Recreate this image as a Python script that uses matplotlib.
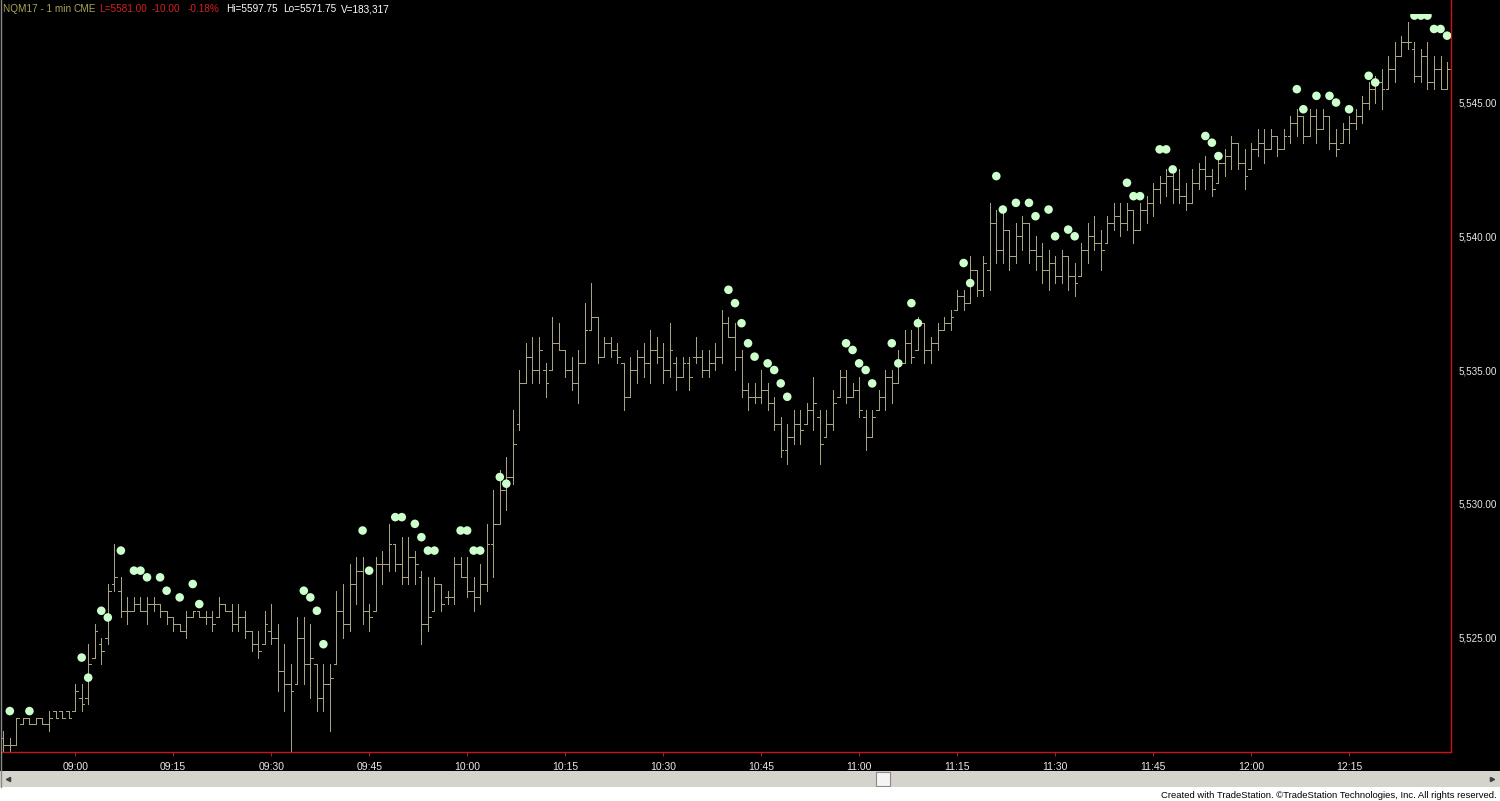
import matplotlib
matplotlib.use("Agg")
import matplotlib.pyplot as plt
from matplotlib.patches import Rectangle
from matplotlib.lines import Line2D

# ---------------- data ----------------
start_time = "08:49"
highs = [
    5521.5, 5521.25, 5522.0, 5522.0, 5522.0, 5522.0, 5522.0, 5522.25, 5522.25, 5522.25,
    5522.25, 5523.25, 5523.25, 5524.75, 5525.5, 5525.0, 5527.0, 5528.5, 5527.25, 5526.5,
    5526.5, 5526.5, 5526.5, 5526.5, 5526.25, 5526.0, 5525.75, 5525.5, 5526.0, 5526.0,
    5526.0, 5526.0, 5526.0, 5526.5, 5526.25, 5526.25, 5526.25, 5526.0, 5525.25, 5525.25,
    5526.0, 5526.25, 5525.5, 5524.75, 5524.0, 5525.75, 5525.75, 5525.5, 5524.0, 5524.0,
    5524.0, 5526.75, 5527.0, 5527.75, 5528.0, 5528.0, 5526.25, 5528.0, 5528.25, 5529.25,
    5528.5, 5528.75, 5528.75, 5528.25, 5527.5, 5527.25, 5527.25, 5527.0, 5526.75, 5528.0,
    5528.0, 5528.0, 5527.25, 5527.75, 5529.25, 5530.5, 5531.25, 5531.75, 5533.5, 5535.0,
    5536.0, 5536.25, 5536.25, 5535.25, 5537.0, 5536.75, 5535.75, 5535.5, 5535.75, 5537.5,
    5538.25, 5537.0, 5536.25, 5536.25, 5536.0, 5535.25, 5535.5, 5535.75, 5536.0, 5536.5,
    5536.25, 5536.0, 5536.75, 5535.5, 5535.5, 5535.5, 5536.25, 5535.75, 5535.75, 5536.0,
    5537.25, 5537.0, 5536.75, 5535.75, 5534.5, 5534.5, 5535.0, 5534.5, 5534.0, 5533.25,
    5533.0, 5533.5, 5533.5, 5533.75, 5534.75, 5533.5, 5533.5, 5534.25, 5535.0, 5535.0,
    5534.5, 5534.75, 5533.5, 5533.5, 5534.25, 5535.0, 5535.0, 5535.75, 5536.5, 5536.5,
    5537.0, 5536.75, 5536.25, 5536.75, 5537.0, 5537.25, 5538.0, 5538.0, 5539.25, 5538.75,
    5539.25, 5541.25, 5541.0, 5541.0, 5540.25, 5540.5, 5540.75, 5540.5, 5540.0, 5539.75,
    5539.5, 5539.25, 5539.5, 5539.25, 5539.0, 5539.75, 5540.5, 5540.75, 5540.25, 5540.75,
    5541.25, 5541.25, 5541.25, 5541.0, 5541.25, 5541.5, 5542.0, 5542.25, 5542.5, 5542.5,
    5542.5, 5542.0, 5542.5, 5542.75, 5543.0, 5542.5, 5543.0, 5543.25, 5543.75, 5543.5,
    5543.25, 5543.5, 5544.0, 5544.0, 5544.0, 5543.75, 5544.0, 5544.5, 5544.75, 5544.5,
    5544.75, 5544.75, 5544.75, 5544.5, 5544.0, 5544.25, 5544.5, 5544.75, 5545.25, 5545.75,
    5546.0, 5546.25, 5546.75, 5547.25, 5547.5, 5548.0, 5547.25, 5547.0, 5547.25, 5546.75,
    5546.75, 5546.5,
]
lows = [
    5520.75, 5520.75, 5521.0, 5521.75, 5521.75, 5521.75, 5521.75, 5521.5, 5522.0, 5522.0,
    5522.0, 5522.25, 5522.25, 5522.5, 5524.25, 5524.0, 5524.75, 5526.75, 5525.75, 5525.5,
    5526.0, 5526.0, 5525.5, 5526.0, 5525.75, 5525.5, 5525.25, 5525.25, 5525.0, 5525.75,
    5525.75, 5525.5, 5525.25, 5525.75, 5526.0, 5525.25, 5525.25, 5525.0, 5524.5, 5524.25,
    5524.75, 5524.75, 5523.0, 5522.25, 5520.75, 5523.25, 5523.25, 5522.75, 5522.25, 5522.25,
    5521.5, 5524.0, 5525.0, 5525.25, 5526.25, 5525.5, 5525.25, 5526.0, 5527.0, 5527.5,
    5527.5, 5527.0, 5527.0, 5527.0, 5524.75, 5525.25, 5526.0, 5526.0, 5526.25, 5526.25,
    5527.25, 5526.5, 5526.0, 5526.25, 5526.75, 5527.25, 5529.25, 5529.75, 5530.75, 5532.75,
    5534.5, 5534.5, 5534.5, 5534.0, 5535.0, 5535.75, 5534.75, 5534.25, 5533.75, 5535.25,
    5536.5, 5535.25, 5535.5, 5535.5, 5535.25, 5533.5, 5534.0, 5534.5, 5534.75, 5534.5,
    5535.25, 5534.5, 5534.75, 5534.25, 5534.75, 5534.25, 5535.25, 5534.75, 5534.75, 5535.0,
    5535.25, 5536.25, 5535.0, 5534.0, 5533.5, 5533.75, 5533.75, 5533.5, 5532.75, 5531.75,
    5531.5, 5532.25, 5532.25, 5533.0, 5532.75, 5531.5, 5532.5, 5532.75, 5534.0, 5533.75,
    5534.0, 5533.25, 5532.0, 5532.5, 5533.5, 5533.5, 5533.75, 5534.5, 5535.25, 5535.25,
    5535.75, 5535.25, 5535.25, 5535.75, 5536.5, 5536.5, 5537.25, 5537.25, 5537.5, 5537.75,
    5537.75, 5538.0, 5539.0, 5539.0, 5538.75, 5539.0, 5539.5, 5539.0, 5538.75, 5538.25,
    5538.0, 5538.25, 5538.25, 5538.0, 5537.75, 5538.5, 5539.0, 5539.5, 5538.75, 5539.75,
    5540.25, 5540.0, 5540.25, 5539.75, 5540.25, 5540.5, 5540.75, 5541.25, 5541.5, 5541.25,
    5541.25, 5541.0, 5541.25, 5541.75, 5541.75, 5541.5, 5542.0, 5542.25, 5542.5, 5542.5,
    5541.75, 5542.5, 5543.0, 5542.75, 5543.25, 5543.0, 5543.25, 5543.5, 5543.75, 5543.5,
    5543.75, 5543.5, 5544.0, 5543.25, 5543.0, 5543.5, 5543.5, 5544.0, 5544.25, 5544.75,
    5545.0, 5544.75, 5545.5, 5545.75, 5546.75, 5547.0, 5545.75, 5545.75, 5545.5, 5545.5,
    5545.5, 5545.5,
]
opens = [
    5521.25, 5521.0, 5521.0, 5521.75, 5522.0, 5521.75, 5522.0, 5521.75, 5522.25, 5522.25,
    5522.25, 5522.25, 5522.75, 5522.75, 5524.25, 5524.75, 5525.0, 5527.0, 5526.75, 5526.0,
    5526.0, 5526.25, 5526.0, 5526.25, 5526.25, 5526.0, 5525.75, 5525.5, 5525.25, 5525.75,
    5526.0, 5525.75, 5525.75, 5525.75, 5526.25, 5526.0, 5525.5, 5525.75, 5525.25, 5524.75,
    5524.75, 5525.25, 5525.0, 5523.75, 5523.25, 5523.25, 5525.0, 5524.0, 5524.0, 5522.75,
    5523.25, 5524.0, 5526.0, 5525.5, 5527.0, 5527.5, 5526.0, 5526.0, 5527.75, 5527.75,
    5528.5, 5527.75, 5527.25, 5528.0, 5527.25, 5525.5, 5526.0, 5527.0, 5526.5, 5526.5,
    5527.75, 5527.25, 5526.75, 5526.5, 5527.0, 5528.5, 5529.25, 5530.5, 5531.0, 5533.0,
    5534.5, 5535.5, 5535.0, 5535.0, 5535.0, 5536.0, 5535.75, 5535.0, 5534.5, 5535.25,
    5536.5, 5537.0, 5535.5, 5536.0, 5535.75, 5535.25, 5534.0, 5535.0, 5535.5, 5535.25,
    5535.75, 5535.5, 5535.0, 5535.25, 5534.75, 5535.25, 5535.5, 5535.5, 5535.0, 5535.25,
    5535.5, 5536.75, 5536.25, 5535.5, 5534.25, 5534.0, 5534.0, 5534.25, 5533.75, 5533.0,
    5532.0, 5532.5, 5533.0, 5533.0, 5533.5, 5533.25, 5532.5, 5533.0, 5534.0, 5534.75,
    5534.0, 5534.25, 5533.25, 5532.5, 5533.5, 5534.0, 5534.75, 5534.5, 5535.25, 5536.0,
    5535.75, 5536.75, 5535.75, 5536.0, 5536.5, 5536.75, 5537.25, 5537.75, 5537.5, 5538.75,
    5538.0, 5538.75, 5540.5, 5539.5, 5540.25, 5539.25, 5540.0, 5540.5, 5539.5, 5539.25,
    5538.75, 5539.0, 5538.5, 5539.25, 5538.5, 5538.5, 5539.5, 5540.0, 5539.75, 5539.75,
    5540.5, 5540.75, 5540.5, 5541.0, 5540.25, 5541.0, 5541.25, 5541.75, 5542.0, 5542.25,
    5541.75, 5541.5, 5541.25, 5542.0, 5542.5, 5542.25, 5542.0, 5542.75, 5543.0, 5543.5,
    5542.75, 5542.5, 5543.25, 5543.5, 5543.25, 5543.75, 5543.25, 5543.75, 5544.25, 5544.5,
    5543.75, 5544.5, 5544.0, 5544.5, 5543.5, 5543.5, 5544.0, 5544.25, 5544.5, 5545.0,
    5545.5, 5545.75, 5545.5, 5546.25, 5546.75, 5547.25, 5547.0, 5546.0, 5546.75, 5545.75,
    5546.25, 5545.5,
]
closes = [
    5521.0, 5521.0, 5522.0, 5522.0, 5521.75, 5522.0, 5521.75, 5522.0, 5522.0, 5522.0,
    5522.0, 5523.0, 5522.5, 5524.0, 5525.25, 5524.5, 5526.75, 5527.25, 5526.0, 5526.0,
    5526.25, 5526.0, 5526.25, 5526.25, 5526.0, 5525.75, 5525.5, 5525.25, 5525.75, 5526.0,
    5525.75, 5525.75, 5525.5, 5526.25, 5526.0, 5525.5, 5525.75, 5525.25, 5524.75, 5524.5,
    5525.5, 5525.0, 5523.75, 5523.25, 5523.0, 5525.0, 5524.0, 5524.25, 5522.75, 5523.25,
    5523.5, 5526.0, 5525.5, 5527.0, 5527.5, 5526.0, 5525.75, 5527.75, 5527.75, 5528.5,
    5527.75, 5527.25, 5528.0, 5527.75, 5525.5, 5525.75, 5527.0, 5526.25, 5526.5, 5527.75,
    5527.25, 5526.75, 5526.5, 5527.0, 5528.5, 5529.25, 5530.5, 5531.0, 5532.25, 5534.5,
    5535.5, 5535.0, 5535.75, 5534.5, 5536.0, 5535.75, 5535.0, 5534.5, 5535.25, 5536.5,
    5537.0, 5535.5, 5536.0, 5535.75, 5535.5, 5534.0, 5535.0, 5535.5, 5535.25, 5535.75,
    5535.5, 5535.0, 5535.75, 5534.75, 5535.25, 5534.75, 5535.5, 5535.0, 5535.25, 5535.5,
    5536.75, 5536.25, 5535.5, 5534.25, 5534.0, 5534.0, 5534.25, 5533.75, 5533.0, 5532.0,
    5532.5, 5533.0, 5532.75, 5533.5, 5533.75, 5532.25, 5533.0, 5533.75, 5534.75, 5534.0,
    5534.25, 5533.5, 5532.5, 5533.25, 5534.0, 5534.75, 5534.5, 5535.25, 5536.0, 5535.5,
    5536.75, 5535.75, 5536.0, 5536.5, 5536.75, 5537.0, 5537.75, 5537.5, 5538.75, 5538.0,
    5539.0, 5540.5, 5539.5, 5540.25, 5539.25, 5540.0, 5540.5, 5539.5, 5539.25, 5538.75,
    5539.0, 5538.5, 5539.25, 5538.5, 5538.25, 5539.5, 5540.0, 5539.75, 5539.5, 5540.5,
    5540.75, 5540.5, 5541.0, 5540.25, 5541.0, 5541.25, 5541.75, 5542.0, 5542.25, 5541.75,
    5541.5, 5541.25, 5542.0, 5542.5, 5542.25, 5541.75, 5542.75, 5543.0, 5543.5, 5542.75,
    5542.25, 5543.25, 5543.5, 5543.25, 5543.75, 5543.25, 5543.75, 5544.25, 5544.5, 5543.75,
    5544.5, 5544.0, 5544.5, 5543.5, 5543.25, 5544.0, 5544.25, 5544.5, 5545.0, 5545.5,
    5545.75, 5545.5, 5546.25, 5546.75, 5547.25, 5547.25, 5546.0, 5546.75, 5545.75, 5546.25,
    5545.5, 5546.25,
]
# indicator dots (bar index, price)
dot_bars = [1, 4, 12, 13, 15, 16, 18, 20, 21, 22, 24, 25, 27, 29, 30, 46, 47, 48, 49,
            55, 56, 60, 61, 63, 64, 65, 66, 70, 71, 72, 73, 76, 77,
            111, 112, 113, 114, 115, 117, 118, 119, 120,
            129, 130, 131, 132, 133, 136, 137, 139, 140, 147, 148,
            152, 153, 155, 157, 158, 160, 161, 163, 164, 172, 173, 174,
            177, 178, 179, 184, 185, 186, 198, 199, 201, 203, 204, 206,
            209, 210, 216, 217, 218, 219, 220, 221]
dot_prices = [5522.25, 5522.25, 5524.25, 5523.5, 5526.0, 5525.75, 5528.25, 5527.5, 5527.5,
              5527.25, 5527.25, 5526.75, 5526.5, 5527.0, 5526.25, 5526.75, 5526.5, 5526.0, 5524.75,
              5529.0, 5527.5, 5529.5, 5529.5, 5529.25, 5528.75, 5528.25, 5528.25, 5529.0, 5529.0,
              5528.25, 5528.25, 5531.0, 5530.75,
              5538.0, 5537.5, 5536.75, 5536.0, 5535.5, 5535.25, 5535.0, 5534.5, 5534.0,
              5536.0, 5535.75, 5535.25, 5535.0, 5534.5, 5536.0, 5535.25, 5537.5, 5536.75, 5539.0, 5538.25,
              5542.25, 5541.0, 5541.25, 5541.25, 5540.75, 5541.0, 5540.0, 5540.25, 5540.0, 5542.0, 5541.5,
              5541.5, 5543.25, 5543.25, 5542.5, 5543.75, 5543.5, 5543.0, 5545.5, 5544.75, 5545.25, 5545.25,
              5545.0, 5544.75, 5546.0, 5545.75, 5548.25, 5548.25, 5548.25, 5547.75, 5547.75, 5547.5]
time_labels = ["09:00", "09:15", "09:30", "09:45", "10:00", "10:15", "10:30",
               "10:45", "11:00", "11:15", "11:30", "11:45", "12:00", "12:15"]
price_ticks = [5525, 5530, 5535, 5540, 5545]

header_parts = [("NQM17 - 1 min", "#a8a458", 3), ("CME", "#a8a458", 73),
                ("L=5581.00", "#d42020", 99), ("-10.00", "#d42020", 152),
                ("-0.18%", "#d42020", 188), ("Hi=5597.75", "#ffffff", 226),
                ("Lo=5571.75", "#ffffff", 283), ("V=183,317", "#ffffff", 341)]

# ---------------- figure ----------------
W, H = 1500, 801
fig = plt.figure(figsize=(W / 100, H / 100), dpi=100, facecolor="black")
FONT = "Liberation Sans"

def fx(px):
    return px / W

def fy(py):
    return 1 - py / H

ax = fig.add_axes([fx(1), fy(752), fx(1450), (752 - 14) / H])
ax.set_facecolor("black")

bar_col = "#a8a482"
n = len(closes)
idx = list(range(n))
tick = 0.42
lw = 0.6
kw = dict(colors=bar_col, linewidth=lw, antialiased=False, snap=True)
ax.vlines(idx, lows, highs, **kw)
ax.hlines(opens, [i - tick for i in idx], idx, **kw)
ax.hlines(closes, idx, [i + tick for i in idx], **kw)
ax.scatter(dot_bars, dot_prices, s=38, color="#ccffcc", edgecolors="none", zorder=3)

ax.set_xlim(-0.35, 221.6)
ax.set_ylim(5520.72, 5548.31)

# x ticks from time labels
h0, m0 = map(int, start_time.split(":"))
def minutes(t):
    h, m = map(int, t.split(":"))
    return (h * 60 + m) - (h0 * 60 + m0)
ax.set_xticks([minutes(t) for t in time_labels])
ax.set_xticklabels(time_labels, fontsize=7.5, color="#e8e8e8", family=FONT)
ax.tick_params(axis="x", colors="#b02020", length=3, width=0.8, pad=4, labelcolor="#e8e8e8")

ax.yaxis.tick_right()
ax.set_yticks(price_ticks)
ax.set_yticklabels([f"{p:,.2f}" for p in price_ticks], fontsize=7.1, color="#e8e8e8", family=FONT)
ax.tick_params(axis="y", length=0, pad=5.5, labelcolor="#e8e8e8")

for s in ["top", "left"]:
    ax.spines[s].set_visible(False)
ax.spines["bottom"].set_color("#c81414")
ax.spines["right"].set_color("#c81414")
ax.spines["bottom"].set_linewidth(1.0)
ax.spines["right"].set_linewidth(1.0)

# extend right red line to top of window
fig.add_artist(Line2D([fx(1451), fx(1451)], [fy(0), fy(14)], color="#c81414", linewidth=1.0))
# left window border
fig.add_artist(Line2D([fx(0.7), fx(0.7)], [fy(0), fy(787)], color="#8a8a8a", linewidth=1.0))

# header
for text, col, xpx in header_parts:
    fig.text(fx(xpx), fy(9), text, color=col, fontsize=7.2, family=FONT, va="center", ha="left")

# scrollbar band
fig.add_artist(Rectangle((0, fy(787)), 1, 16 / H, transform=fig.transFigure,
                         facecolor="#d6d3cc", edgecolor="none"))
fig.add_artist(Rectangle((fx(876), fy(786)), fx(14), 14 / H, transform=fig.transFigure,
                         facecolor="#f4f4f4", edgecolor="#8a8a8a", linewidth=0.8))
fig.add_artist(Line2D([fx(8)], [fy(779)], marker="<", markersize=3, color="#404040", linestyle="none"))
fig.add_artist(Line2D([fx(1492)], [fy(779)], marker=">", markersize=3, color="#404040", linestyle="none"))
# bottom white strip
fig.add_artist(Rectangle((0, 0), 1, 14 / H, transform=fig.transFigure,
                         facecolor="white", edgecolor="none"))
fig.text(fx(1497), fy(795), "Created with TradeStation. \u00a9TradeStation Technologies, Inc. All rights reserved.",
         color="black", fontsize=6.8, family=FONT, ha="right", va="center")

fig.savefig("out.png", dpi=100, facecolor="black")
